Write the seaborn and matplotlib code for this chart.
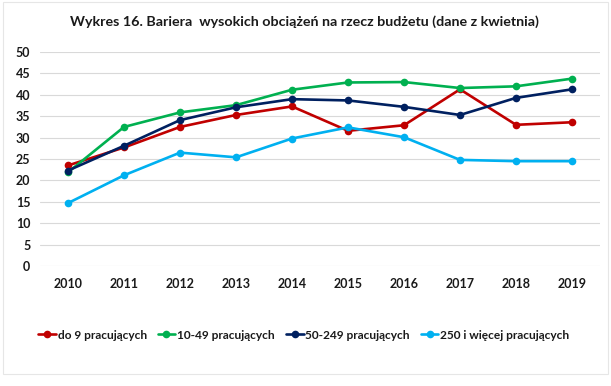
import numpy as np
import pandas as pd
import seaborn as sns
import matplotlib.pyplot as plt
from matplotlib.patches import Rectangle

# Data
years = ['2010', '2011', '2012', '2013', '2014', '2015', '2016', '2017', '2018', '2019']
do_9 = [23.5, 27.7, 32.5, 35.3, 37.3, 31.6, 32.9, 41.3, 33.0, 33.6]
od_10_49 = [21.9, 32.5, 35.9, 37.6, 41.2, 42.9, 43.0, 41.6, 42.0, 43.8]
od_50_249 = [22.3, 28.1, 34.1, 37.1, 39.0, 38.7, 37.2, 35.3, 39.3, 41.3]
od_250 = [14.7, 21.2, 26.5, 25.4, 29.8, 32.4, 30.1, 24.8, 24.5, 24.5]
series_names = ['do 9 pracujących', '10-49 pracujących', '50-249 pracujących', '250 i więcej pracujących']
colors = ['#C00000', '#00B050', '#002060', '#00B0F0']

# Long format dataframe for seaborn
rows = []
for name, vals in zip(series_names, [do_9, od_10_49, od_50_249, od_250]):
    for i, v in enumerate(vals):
        rows.append({'rok': i, 'wartosc': v, 'grupa': name})
df = pd.DataFrame(rows)

sns.set_style('white')
plt.rcParams['font.family'] = ['Lato', 'DejaVu Sans']
plt.rcParams['text.color'] = '#1A1A1A'
plt.rcParams['xtick.color'] = '#1A1A1A'
plt.rcParams['ytick.color'] = '#1A1A1A'

fig = plt.figure(figsize=(6.11, 3.86), dpi=100)
ax = fig.add_axes([0.0655, 0.311, 0.9165, 0.554])

sns.lineplot(data=df, x='rok', y='wartosc', hue='grupa', palette=colors,
             marker='o', markersize=5.5, markeredgewidth=0, linewidth=1.9,
             ax=ax, legend=False)

ax.set_xlim(-0.5, 9.5)
ax.set_ylim(0, 50)
ax.set_yticks(range(0, 51, 5))
ax.set_xticks(range(len(years)))
ax.set_xticklabels(years)
ax.tick_params(axis='both', length=0, labelsize=9)
ax.tick_params(axis='x', pad=9)
ax.tick_params(axis='y', pad=7)
for lab in ax.get_xticklabels() + ax.get_yticklabels():
    lab.set_fontweight('bold')
ax.yaxis.grid(True, color='#D9D9D9', linewidth=0.8)
ax.set_axisbelow(True)
for s in ax.spines.values():
    s.set_visible(False)
ax.set_xlabel('')
ax.set_ylabel('')

fig.text(0.499, 0.943, 'Wykres 16. Bariera  wysokich obciążeń na rzecz budżetu (dane z kwietnia)',
         ha='center', va='center', fontsize=10.3, fontweight='bold')

# legend built from the same lines
handles = ax.get_lines()[:4]
fig.legend(handles, series_names, loc='center', bbox_to_anchor=(0.497, 0.132), ncol=4,
           frameon=False, prop={'weight': 'bold', 'size': 8.6}, handlelength=1.5,
           handletextpad=0.15, columnspacing=0.9)

# faint chart frame
fig.patches.append(Rectangle((0.005, 0.03), 0.99, 0.965, transform=fig.transFigure,
                             fill=False, edgecolor='#E6E6E6', linewidth=0.8))

fig.savefig('out.png', dpi=100)
